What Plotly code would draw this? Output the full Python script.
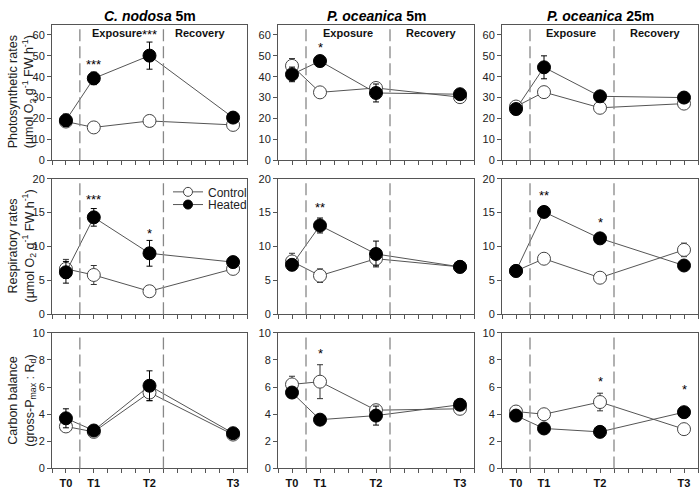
import plotly.graph_objects as go

# ---------------- data ----------------
days = [0, 2, 6, 12]
tick_labels = ["T0", "T1", "T2", "T3"]
panel_titles = ["<i>C. nodosa</i> 5m", "<i>P. oceanica</i> 5m", "<i>P. oceanica</i> 25m"]

# Photosynthetic rates
photo_ctrl = [[18.5, 15.7, 18.8, 16.9], [45.2, 32.5, 34.6, 30.2], [25.7, 32.6, 25.1, 27.1]]
photo_ctrl_err = [[2.0, 2.5, 2.5, 1.5], [3.5, 1.0, 2.5, 1.5], [1.5, 2.5, 1.5, 1.5]]
photo_heat = [[19.1, 39.2, 50.1, 20.4], [41.1, 47.5, 32.2, 31.6], [24.5, 44.5, 30.6, 30.0]]
photo_heat_err = [[3.0, 3.0, 6.5, 1.5], [3.5, 1.5, 4.3, 1.5], [1.0, 5.5, 1.5, 1.0]]

# Respiratory rates
resp_ctrl = [[6.7, 5.8, 3.4, 6.7], [7.8, 5.7, 8.2, 7.0], [6.4, 8.2, 5.4, 9.5]]
resp_ctrl_err = [[1.4, 1.4, 0.3, 0.5], [1.2, 1.0, 1.0, 0.5], [0.4, 0.5, 0.4, 1.0]]
resp_heat = [[6.2, 14.3, 9.0, 7.7], [7.3, 13.1, 8.9, 7.0], [6.4, 15.1, 11.2, 7.2]]
resp_heat_err = [[1.6, 1.3, 1.9, 0.6], [0.8, 1.1, 1.9, 0.5], [0.4, 0.8, 0.5, 0.7]]

# Carbon balance
carb_ctrl = [[3.1, 2.7, 5.6, 2.5], [6.2, 6.4, 4.3, 4.4], [4.2, 4.0, 4.9, 2.9]]
carb_ctrl_err = [[0.4, 0.2, 0.6, 0.2], [0.6, 1.25, 0.4, 0.3], [0.4, 0.2, 0.65, 0.2]]
carb_heat = [[3.7, 2.8, 6.1, 2.6], [5.6, 3.6, 3.9, 4.7], [3.9, 2.95, 2.7, 4.15]]
carb_heat_err = [[0.7, 0.2, 1.1, 0.2], [0.3, 0.2, 0.7, 0.4], [0.2, 0.2, 0.2, 0.2]]

# significance marks (day, value, text) per row / panel
photo_sig = [[(2, 46.0, "***"), (6, 60.0, "***")], [(2, 54.0, "*")], []]
resp_sig = [[(2, 17.0, "***"), (6, 11.9, "*")], [(2, 15.7, "**")], [(2, 17.5, "**"), (6, 13.5, "*")]]
carb_sig = [[], [(2, 8.5, "*")], [(6, 6.4, "*"), (12, 5.8, "*")]]

row_ranges = [[0, 65], [0, 20], [0, 10]]
row_dticks = [10, 5, 2]
row_titles = [
    "Photosynthetic rates<br>(µmol O<sub>2</sub> g<sup>-1</sup> FW h<sup>-1</sup>)",
    "Respiratory rates<br>(µmol O<sub>2</sub> g<sup>-1</sup> FW h<sup>-1</sup>)",
    "Carbon balance<br>(gross-P<sub>max</sub> : R<sub>d</sub>)",
]
dash_days = [1, 7]
phase_names = ["Exposure", "Recovery"]
phase_pos = [[3.65, 9.6], [4.0, 9.9], [3.9, 9.9]]

rows = [
    (photo_ctrl, photo_ctrl_err, photo_heat, photo_heat_err, photo_sig),
    (resp_ctrl, resp_ctrl_err, resp_heat, resp_heat_err, resp_sig),
    (carb_ctrl, carb_ctrl_err, carb_heat, carb_heat_err, carb_sig),
]

# ---------------- layout geometry ----------------
W, H = 700, 494
col_px = [(52, 247), (278, 474), (502, 698)]
row_px = [(19, 158), (177, 316), (335, 474)]
FONT = "Liberation Sans, Arial, sans-serif"

fig = go.Figure()
layout = dict(
    width=W, height=H, margin=dict(l=0, r=0, t=0, b=0),
    paper_bgcolor="white", plot_bgcolor="white",
    font=dict(family=FONT, size=11, color="#222"),
    showlegend=True,
)
annotations = []
shapes = []

axis_color = "#555"
line_color = "#555"

for r in range(3):
    ctrl, ctrl_e, heat, heat_e, sig = rows[r]
    for c in range(3):
        idx = r * 3 + c + 1
        xa = "x" if idx == 1 else f"x{idx}"
        ya = "y" if idx == 1 else f"y{idx}"
        xkey = "xaxis" if idx == 1 else f"xaxis{idx}"
        ykey = "yaxis" if idx == 1 else f"yaxis{idx}"
        x0, x1 = col_px[c]
        y0, y1 = row_px[r]
        layout[xkey] = dict(
            domain=[x0 / W, x1 / W], anchor=ya, range=[-1, 13],
            showgrid=False, zeroline=False, showline=True, linecolor=axis_color,
            linewidth=1, mirror=True, ticks="outside", ticklen=4, tickcolor=axis_color,
            tickvals=days,
            ticktext=["<b>" + t + "</b>" for t in tick_labels],
            showticklabels=(r == 2),
            minor=dict(dtick=1, tick0=0, ticks="outside", ticklen=4, tickcolor=axis_color,
                       showgrid=False),
            tickfont=dict(size=11, color="#111"),
        )
        layout[ykey] = dict(
            domain=[1 - y1 / H, 1 - y0 / H], anchor=xa, range=row_ranges[r],
            dtick=row_dticks[r], showgrid=False, zeroline=False, showline=True,
            linecolor=axis_color, linewidth=1, mirror=True, ticks="outside",
            ticklen=4, tickcolor=axis_color, tickfont=dict(size=11, color="#222"),
        )
        # dashed phase separators
        for d in dash_days:
            shapes.append(dict(type="line", xref=xa, yref=f"{ya} domain", x0=d, x1=d, y0=0, y1=1,
                               line=dict(color="#888", width=1.3, dash="12px,5px")))
        # control series
        fig.add_trace(go.Scatter(
            x=days, y=ctrl[c], xaxis=xa, yaxis=ya, mode="lines+markers", showlegend=False,
            line=dict(color=line_color, width=1),
            marker=dict(size=13, color="white", line=dict(color="#444", width=1)),
            error_y=dict(type="data", array=ctrl_e[c], color="#333", thickness=1, width=3),
        ))
        # heated series
        fig.add_trace(go.Scatter(
            x=days, y=heat[c], xaxis=xa, yaxis=ya, mode="lines+markers", showlegend=False,
            line=dict(color=line_color, width=1),
            marker=dict(size=13, color="black", line=dict(color="black", width=1)),
            error_y=dict(type="data", array=heat_e[c], color="black", thickness=1, width=3),
        ))
        # significance stars
        for (d, v, t) in sig[c]:
            annotations.append(dict(x=d, y=v, xref=xa, yref=ya, text=t, showarrow=False,
                                    xanchor="center", yanchor="middle",
                                    font=dict(size=13, color="black")))
        # phase labels on top row
        if r == 0:
            for d, t in zip(phase_pos[c], phase_names):
                annotations.append(dict(x=d, y=60.8, xref=xa, yref=ya, text=f"<b>{t}</b>",
                                        showarrow=False, xanchor="center", yanchor="middle",
                                        font=dict(size=11, color="#111")))
            annotations.append(dict(x=(x0 + x1) / 2 / W, y=1 - 10 / H, xref="paper", yref="paper",
                                    text=f"<b>{panel_titles[c]}</b>", showarrow=False,
                                    xanchor="center", yanchor="middle",
                                    font=dict(size=14, color="black")))
    # row y titles
    y0, y1 = row_px[r]
    annotations.append(dict(x=22 / W, y=1 - (y0 + y1) / 2 / H, xref="paper", yref="paper",
                            text=row_titles[r], textangle=-90, showarrow=False,
                            xanchor="center", yanchor="middle",
                            font=dict(size=12.5, color="#222")))

# legend entries (dummy traces), one legend each so rows sit close together
fig.add_trace(go.Scatter(x=[None], y=[None], mode="lines+markers", name="Control",
                         legend="legend",
                         line=dict(color=line_color, width=1),
                         marker=dict(size=9, color="white", line=dict(color="#444", width=1))))
fig.add_trace(go.Scatter(x=[None], y=[None], mode="lines+markers", name="Heated",
                         legend="legend2",
                         line=dict(color=line_color, width=1),
                         marker=dict(size=9, color="black", line=dict(color="black", width=1))))

leg_common = dict(xanchor="left", yanchor="middle", bgcolor="rgba(0,0,0,0)",
                  font=dict(size=12, color="#222"), orientation="h",
                  entrywidth=90, entrywidthmode="pixels")
layout["legend"] = dict(x=168 / W, y=1 - 190.5 / H, **leg_common)
layout["legend2"] = dict(x=168 / W, y=1 - 203.5 / H, **leg_common)
layout["annotations"] = annotations
layout["shapes"] = shapes
fig.update_layout(**layout)

fig.write_html("out.html", config={"displayModeBar": False},
               post_script="document.body.style.margin='0';document.body.style.overflow='hidden';")
